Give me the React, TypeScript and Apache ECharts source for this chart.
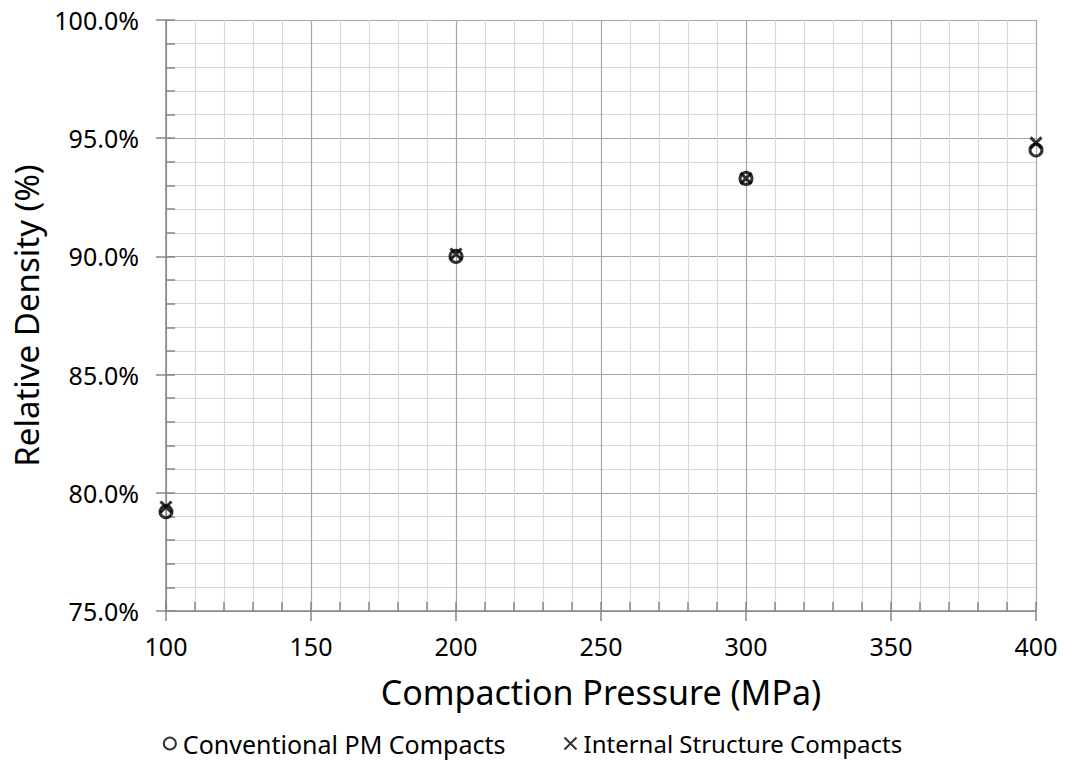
import React, { useEffect, useRef } from "react";
import * as echarts from "echarts";

const pressures = [100, 200, 300, 400];
const conventionalDensity = [79.2, 90.0, 93.3, 94.5];
const internalDensity = [79.4, 90.1, 93.3, 94.8];
const seriesNames = ["Conventional PM Compacts", "Internal Structure Compacts"];
const xTitle = "Compaction Pressure (MPa)";
const yTitle = "Relative Density (%)";

const FONT = "Noto Sans";
const CROSS = "path://M0,0L10,10M10,0L0,10";

export default function App() {
  const ref = useRef<HTMLDivElement>(null);
  useEffect(() => {
    const chart = echarts.init(ref.current!, null, { renderer: "svg" });
    const xBase = { type: "value", min: 100, max: 400, interval: 50 };
    const yBase = { type: "value", min: 75, max: 100, interval: 5 };
    chart.setOption({
      animation: false,
      backgroundColor: "#fff",
      textStyle: { fontFamily: FONT },
      grid: { left: 166, right: 29, top: 20, bottom: 164 },
      legend: {
        top: 726,
        left: "center",
        itemGap: 58,
        itemWidth: 12,
        itemHeight: 12,
        textStyle: { fontFamily: FONT, fontSize: 25, color: "#000", padding: [0, 0, 0, 2] },
        data: [
          { name: seriesNames[0] },
          { name: seriesNames[1], textStyle: { fontSize: 24 } },
        ],
      },
      xAxis: [
        {
          ...xBase,
          name: xTitle,
          nameLocation: "middle",
          nameGap: 64,
          nameTextStyle: { fontFamily: FONT, fontSize: 34, color: "#000" },
          axisLine: { show: true, lineStyle: { color: "#868686", width: 1.5 } },
          axisTick: { show: true, inside: true, length: 9, lineStyle: { color: "#868686", width: 1.5 } },
          minorTick: { show: true, splitNumber: 5, length: 9, lineStyle: { color: "#868686", width: 1.5 } },
          axisLabel: { fontFamily: FONT, fontSize: 25, color: "#000", margin: 22 },
          splitLine: { show: true, lineStyle: { color: "#a6a6a6", width: 1.2 } },
          minorSplitLine: { show: true, lineStyle: { color: "#d9d9d9", width: 1.2 } },
        },
        {
          ...xBase,
          position: "bottom",
          axisLine: { show: false },
          axisTick: { show: true, inside: false, length: 10, lineStyle: { color: "#868686", width: 1.5 } },
          axisLabel: { show: false },
          splitLine: { show: false },
        },
      ],
      yAxis: [
        {
          ...yBase,
          name: yTitle,
          nameLocation: "middle",
          nameGap: 120,
          nameTextStyle: { fontFamily: FONT, fontSize: 33, color: "#000" },
          axisLine: { show: true, lineStyle: { color: "#868686", width: 1.5 } },
          axisTick: { show: true, inside: true, length: 9, lineStyle: { color: "#868686", width: 1.5 } },
          minorTick: { show: true, splitNumber: 5, length: 9, lineStyle: { color: "#868686", width: 1.5 } },
          axisLabel: {
            fontFamily: FONT,
            fontSize: 25,
            color: "#000",
            margin: 27,
            formatter: (v: number) => v.toFixed(1) + "%",
          },
          splitLine: { show: true, lineStyle: { color: "#a6a6a6", width: 1.2 } },
          minorSplitLine: { show: true, lineStyle: { color: "#d9d9d9", width: 1.2 } },
        },
        {
          ...yBase,
          position: "left",
          axisLine: { show: false },
          axisTick: { show: true, inside: false, length: 10, lineStyle: { color: "#868686", width: 1.5 } },
          axisLabel: { show: false },
          splitLine: { show: false },
        },
      ],
      series: [
        {
          name: seriesNames[0],
          type: "scatter",
          xAxisIndex: 0,
          yAxisIndex: 0,
          symbol: "circle",
          symbolSize: 12,
          itemStyle: { color: "rgba(0,0,0,0)", borderColor: "#000", borderWidth: 3 },
          data: pressures.map((p, i) => [p, conventionalDensity[i]]),
          z: 3,
        },
        {
          name: seriesNames[1],
          type: "scatter",
          xAxisIndex: 0,
          yAxisIndex: 0,
          symbol: CROSS,
          symbolSize: 11,
          itemStyle: { color: "rgba(0,0,0,0)", borderColor: "#000", borderWidth: 3 },
          data: pressures.map((p, i) => [p, internalDensity[i]]),
          z: 4,
        },
      ],
    });
    return () => chart.dispose();
  }, []);
  return (
    <div
      ref={ref}
      style={{ position: "absolute", left: 0, top: 0, width: 1065, height: 775 }}
    />
  );
}
